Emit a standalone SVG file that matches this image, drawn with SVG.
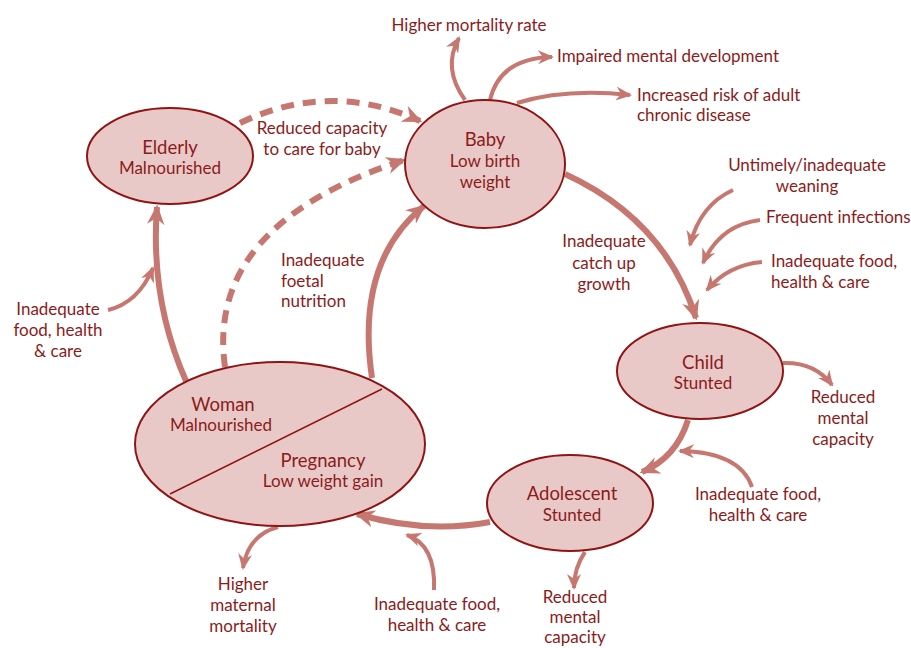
<svg xmlns="http://www.w3.org/2000/svg" width="911" height="648" viewBox="0 0 911 648">
<style>
text{font-family:Lato,"Open Sans","Liberation Sans",sans-serif;fill:#8c1b1b;font-size:17px}
.t{font-size:18.5px}
.s{font-size:17px}
.m{text-anchor:middle}
.node{fill:#e9c9c7;stroke:#8f1414;stroke-width:2}
.main{fill:none;stroke:#c67870;stroke-width:6;marker-end:url(#ah)}
.dash{fill:none;stroke:#c67870;stroke-width:6;stroke-dasharray:13 9;marker-end:url(#ah)}
.thin{fill:none;stroke:#c67870;stroke-width:4;marker-end:url(#ahs)}
</style>
<defs>
<marker id="ah" viewBox="0 0 16 14" refX="14" refY="7" markerWidth="20" markerHeight="18" markerUnits="userSpaceOnUse" orient="auto"><path d="M0,0 L16,7 L0,14 L5,7 z" fill="#c67870"/></marker>
<marker id="ahs" viewBox="0 0 16 14" refX="14" refY="7" markerWidth="16" markerHeight="14" markerUnits="userSpaceOnUse" orient="auto"><path d="M0,0 L16,7 L0,14 L5,7 z" fill="#c67870"/></marker>
</defs>
<rect width="911" height="648" fill="#fff"/>
<g id="connectors">
<path class="main" d="M565,174 Q665,220 696,318"/>
<path class="main" d="M688,420 Q676,458 642,472"/>
<path class="main" d="M490,522 Q425,534 357,514"/>
<path class="main" d="M372,378 Q355,262 424,206"/>
<path class="main" d="M186,381 Q150,300 157,207"/>
<path class="dash" d="M240,123 Q330,80 420,121"/>
<path class="dash" d="M225,367 Q205,225 404,160"/>
<path class="thin" d="M465,100 Q442,68 459,38"/>
<path class="thin" d="M490,100 Q500,58 552,57"/>
<path class="thin" d="M517,103 Q565,88 630,95"/>
<path class="thin" d="M733,190 Q700,205 690,245"/>
<path class="thin" d="M760,220 Q720,225 703,263"/>
<path class="thin" d="M762,262 Q728,265 707,290"/>
<path class="thin" d="M783,363 Q815,362 832,385"/>
<path class="thin" d="M752,487 Q740,452 680,451"/>
<path class="thin" d="M585,552 Q574,568 574,588"/>
<path class="thin" d="M434,590 Q436,545 407,535"/>
<path class="thin" d="M278,527 Q248,535 243,568"/>
<path class="thin" d="M108,310 Q138,303 153,268"/>
</g>
<g id="elderly">
<ellipse class="node" cx="170" cy="156" rx="83" ry="48"/>
<text class="t m" x="170" y="154">Elderly</text>
<text class="s m" x="170" y="174">Malnourished</text>
</g>
<g id="baby">
<ellipse class="node" cx="485" cy="164" rx="80" ry="64"/>
<text class="t m" x="485" y="146">Baby</text>
<text class="s m" x="485" y="167">Low birth</text>
<text class="s m" x="485" y="188">weight</text>
</g>
<g id="child">
<ellipse class="node" cx="700" cy="371" rx="83" ry="48"/>
<text class="t m" x="703" y="369">Child</text>
<text class="s m" x="703" y="389">Stunted</text>
</g>
<g id="adolescent">
<ellipse class="node" cx="570" cy="503" rx="83" ry="48"/>
<text class="t m" x="572" y="500">Adolescent</text>
<text class="s m" x="572" y="521">Stunted</text>
</g>
<g id="woman">
<ellipse class="node" cx="280" cy="444" rx="145" ry="82"/>
<line x1="170" y1="494" x2="382" y2="389" stroke="#8f1414" stroke-width="1.5"/>
<text class="t m" x="223" y="411">Woman</text>
<text class="s m" x="221" y="431">Malnourished</text>
<text class="t m" x="323" y="467">Pregnancy</text>
<text class="s m" x="323" y="487">Low weight gain</text>
</g>
<g id="labels">
<text class="m" x="469" y="31">Higher mortality rate</text>
<text x="557" y="62">Impaired mental development</text>
<text x="637" y="101">Increased risk of adult</text>
<text x="637" y="121">chronic disease</text>
<text class="m" x="322" y="134">Reduced capacity</text>
<text class="m" x="322" y="155">to care for baby</text>
<text class="m" x="807" y="171">Untimely/inadequate</text>
<text class="m" x="807" y="192">weaning</text>
<text x="766" y="223">Frequent infections</text>
<text x="771" y="267">Inadequate food,</text>
<text x="771" y="288">health &amp; care</text>
<text class="m" x="604" y="247">Inadequate</text>
<text class="m" x="604" y="269">catch up</text>
<text class="m" x="604" y="290">growth</text>
<text x="281" y="266">Inadequate</text>
<text x="281" y="287">foetal</text>
<text x="281" y="307">nutrition</text>
<text class="m" x="58" y="315">Inadequate</text>
<text class="m" x="58" y="336">food, health</text>
<text class="m" x="58" y="357">&amp; care</text>
<text class="m" x="843" y="403">Reduced</text>
<text class="m" x="843" y="424">mental</text>
<text class="m" x="843" y="445">capacity</text>
<text class="m" x="758" y="500">Inadequate food,</text>
<text class="m" x="758" y="521">health &amp; care</text>
<text class="m" x="243" y="590">Higher</text>
<text class="m" x="243" y="611">maternal</text>
<text class="m" x="243" y="632">mortality</text>
<text class="m" x="437" y="610">Inadequate food,</text>
<text class="m" x="437" y="631">health &amp; care</text>
<text class="m" x="575" y="603">Reduced</text>
<text class="m" x="575" y="623">mental</text>
<text class="m" x="575" y="643">capacity</text>
</g>
</svg>
